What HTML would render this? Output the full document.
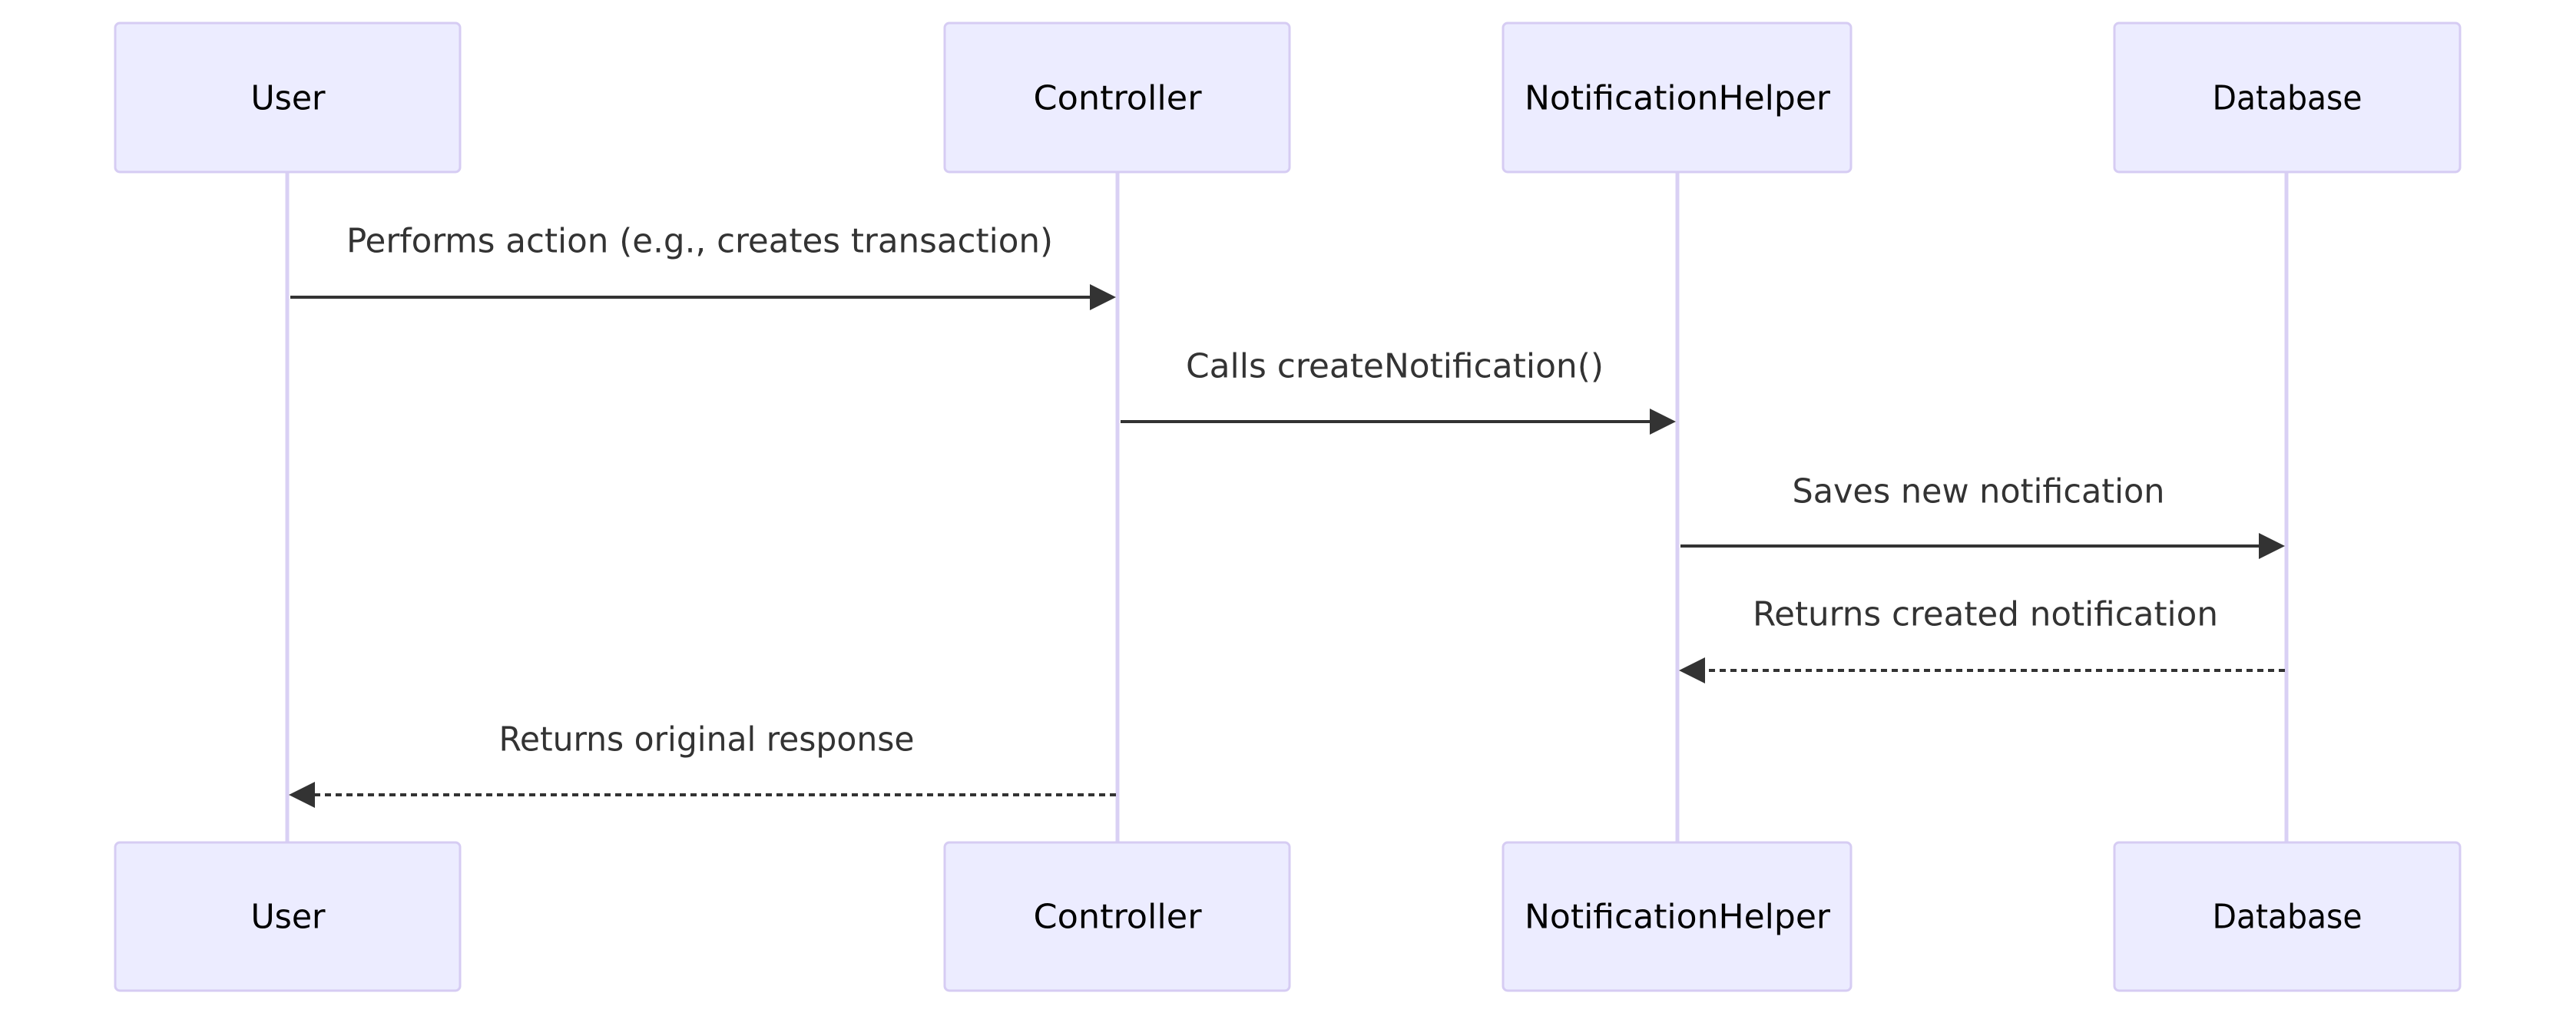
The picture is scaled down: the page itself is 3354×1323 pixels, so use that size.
<!DOCTYPE html>
<html><head><meta charset="utf-8"><style>html,body{margin:0;padding:0;background:#fff}svg{display:block}</style></head>
<body>
<svg width="3354" height="1323" viewBox="0 0 3354 1323" xmlns="http://www.w3.org/2000/svg" font-family="'DejaVu Sans Condensed','Liberation Sans',sans-serif">
<g stroke="#d9d0f4" stroke-width="5">
<line x1="374" y1="224" x2="374" y2="1097"/>
<line x1="1455" y1="224" x2="1455" y2="1097"/>
<line x1="2184" y1="224" x2="2184" y2="1097"/>
<line x1="2977" y1="224" x2="2977" y2="1097"/>
</g>
<g fill="#ECECFF" stroke="#d6ccf3" stroke-width="3">
<rect x="150" y="30" width="449" height="194" rx="6"/>
<rect x="1230" y="30" width="449" height="194" rx="6"/>
<rect x="1957" y="30" width="453" height="194" rx="6"/>
<rect x="2753" y="30" width="450" height="194" rx="6"/>
<rect x="150" y="1097" width="449" height="193" rx="6"/>
<rect x="1230" y="1097" width="449" height="193" rx="6"/>
<rect x="1957" y="1097" width="453" height="193" rx="6"/>
<rect x="2753" y="1097" width="450" height="193" rx="6"/>
</g>
<g font-size="44" fill="#000" text-anchor="middle" dominant-baseline="central">
<text x="375" y="128" textLength="97" lengthAdjust="spacingAndGlyphs">User</text>
<text x="1455" y="128" textLength="219" lengthAdjust="spacingAndGlyphs">Controller</text>
<text x="2184" y="128" textLength="398" lengthAdjust="spacingAndGlyphs">NotificationHelper</text>
<text x="2978" y="128" textLength="195" lengthAdjust="spacingAndGlyphs">Database</text>
<text x="375" y="1194" textLength="97" lengthAdjust="spacingAndGlyphs">User</text>
<text x="1455" y="1194" textLength="219" lengthAdjust="spacingAndGlyphs">Controller</text>
<text x="2184" y="1194" textLength="398" lengthAdjust="spacingAndGlyphs">NotificationHelper</text>
<text x="2978" y="1194" textLength="195" lengthAdjust="spacingAndGlyphs">Database</text>
</g>
<g font-size="44" fill="#333" text-anchor="middle" dominant-baseline="central">
<text x="911" y="314" textLength="920" lengthAdjust="spacingAndGlyphs">Performs action (e.g., creates transaction)</text>
<text x="1816" y="477" textLength="544" lengthAdjust="spacingAndGlyphs">Calls createNotification()</text>
<text x="2576" y="640" textLength="485" lengthAdjust="spacingAndGlyphs">Saves new notification</text>
<text x="2585" y="800" textLength="606" lengthAdjust="spacingAndGlyphs">Returns created notification</text>
<text x="920" y="963" textLength="541" lengthAdjust="spacingAndGlyphs">Returns original response</text>
</g>
<g stroke="#333" stroke-width="4">
<line x1="378" y1="387" x2="1420" y2="387"/>
<line x1="1459" y1="549" x2="2150" y2="549"/>
<line x1="2188" y1="711" x2="2943" y2="711"/>
<line x1="2975" y1="873" x2="2218" y2="873" stroke-dasharray="8,6"/>
<line x1="1453" y1="1035" x2="408" y2="1035" stroke-dasharray="8,6"/>
</g>
<g fill="#333">
<polygon points="1453,387 1419,370 1419,404"/>
<polygon points="2182,549 2148,532 2148,566"/>
<polygon points="2975,711 2941,694 2941,728"/>
<polygon points="2186,873 2220,856 2220,890"/>
<polygon points="376,1035 410,1018 410,1052"/>
</g>
</svg>
</body></html>
